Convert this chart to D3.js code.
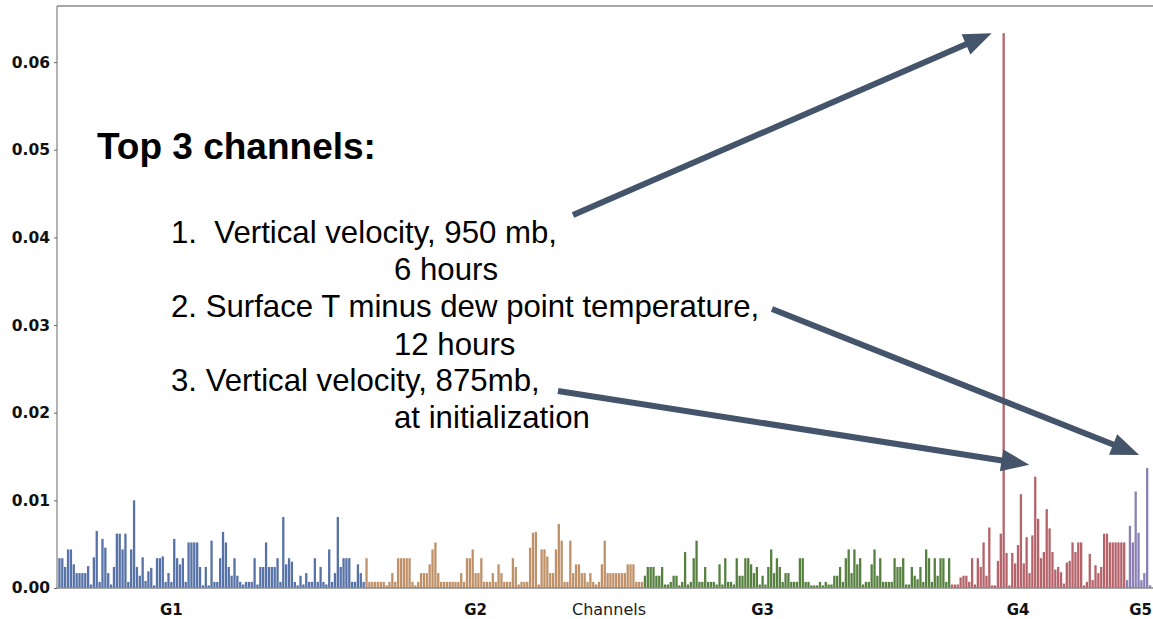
<!DOCTYPE html>
<html>
<head>
<meta charset="utf-8">
<script src="https://cdn.jsdelivr.net/npm/d3@7"></script>
<style>
  html, body { margin: 0; padding: 0; background: #ffffff; }
  svg { display: block; }
  .note { font-family: "Liberation Sans", Arial, sans-serif; fill: #000; white-space: pre; }
</style>
</head>
<body>
<svg id="chart" width="1153" height="619"></svg>
<script>
// Importance score of every input channel, in channel order
const channelValues = [
  // G1
  0.0034, 0.0034, 0.0024, 0.0044, 0.0044, 0.0027, 0.0017, 0.0017, 0.0017, 0.0017,
  0.0025, 0.0004, 0.0035, 0.0065, 0.0007, 0.0056, 0.0046, 0.0017, 0.0004, 0.0024,
  0.0062, 0.0062, 0.0044, 0.0062, 0.0007, 0.0044, 0.0100, 0.0024, 0.0014, 0.0035,
  0.0008, 0.0019, 0.0023, 0.0003, 0.0034, 0.0034, 0.0036, 0.0007, 0.0017, 0.0007,
  0.0056, 0.0034, 0.0027, 0.0034, 0.0007, 0.0052, 0.0052, 0.0052, 0.0052, 0.0024,
  0.0003, 0.0024, 0.0003, 0.0054, 0.0007, 0.0007, 0.0034, 0.0064, 0.0052, 0.0024,
  0.0014, 0.0034, 0.0014, 0.0007, 0.0004, 0.0007, 0.0007, 0.0007, 0.0034, 0.0004,
  0.0024, 0.0024, 0.0052, 0.0024, 0.0024, 0.0024, 0.0034, 0.0007, 0.0081, 0.0027,
  0.0034, 0.0030, 0.0007, 0.0003, 0.0014, 0.0004, 0.0017, 0.0007, 0.0007, 0.0034,
  0.0007, 0.0024, 0.0007, 0.0004, 0.0044, 0.0007, 0.0017, 0.0081, 0.0024, 0.0034,
  0.0034, 0.0034, 0.0007, 0.0007, 0.0027, 0.0017, 0.0007,
  // G2
  0.0034, 0.0007, 0.0007, 0.0007, 0.0007, 0.0007, 0.0007, 0.0003, 0.0007, 0.0017,
  0.0007, 0.0034, 0.0034, 0.0034, 0.0034, 0.0034, 0.0007, 0.0003, 0.0007, 0.0017,
  0.0017, 0.0017, 0.0027, 0.0044, 0.0052, 0.0017, 0.0007, 0.0007, 0.0007, 0.0007,
  0.0007, 0.0007, 0.0007, 0.0017, 0.0007, 0.0034, 0.0034, 0.0044, 0.0017, 0.0017,
  0.0034, 0.0007, 0.0007, 0.0007, 0.0017, 0.0007, 0.0027, 0.0017, 0.0007, 0.0007,
  0.0007, 0.0034, 0.0024, 0.0004, 0.0007, 0.0007, 0.0007, 0.0046, 0.0063, 0.0064,
  0.0004, 0.0044, 0.0044, 0.0036, 0.0017, 0.0017, 0.0044, 0.0073, 0.0054, 0.0007,
  0.0007, 0.0054, 0.0017, 0.0027, 0.0027, 0.0017, 0.0017, 0.0007, 0.0017, 0.0007,
  0.0004, 0.0007, 0.0027, 0.0054, 0.0017, 0.0017, 0.0017, 0.0017, 0.0017, 0.0017,
  0.0017, 0.0027, 0.0027, 0.0027, 0.0007, 0.0007, 0.0007,
  // G3
  0.0014, 0.0024, 0.0024, 0.0024, 0.0014, 0.0014, 0.0024, 0.0004, 0.0004, 0.0007,
  0.0014, 0.0014, 0.0003, 0.0007, 0.0041, 0.0004, 0.0007, 0.0034, 0.0054, 0.0007,
  0.0007, 0.0024, 0.0007, 0.0007, 0.0007, 0.0004, 0.0027, 0.0004, 0.0034, 0.0007,
  0.0007, 0.0004, 0.0034, 0.0014, 0.0014, 0.0034, 0.0034, 0.0027, 0.0017, 0.0024,
  0.0004, 0.0014, 0.0004, 0.0024, 0.0044, 0.0017, 0.0034, 0.0024, 0.0007, 0.0017,
  0.0017, 0.0007, 0.0007, 0.0007, 0.0034, 0.0034, 0.0007, 0.0007, 0.0003, 0.0003,
  0.0003, 0.0007, 0.0003, 0.0007, 0.0004, 0.0004, 0.0014, 0.0014, 0.0024, 0.0007,
  0.0034, 0.0044, 0.0017, 0.0044, 0.0027, 0.0034, 0.0004, 0.0007, 0.0007, 0.0027,
  0.0044, 0.0014, 0.0034, 0.0007, 0.0007, 0.0007, 0.0007, 0.0034, 0.0024, 0.0024,
  0.0034, 0.0004, 0.0004, 0.0024, 0.0014, 0.0010, 0.0024, 0.0007, 0.0044, 0.0034,
  0.0007, 0.0034, 0.0014, 0.0034, 0.0034, 0.0007, 0.0034,
  // G4
  0.0004, 0.0004, 0.0004, 0.0012, 0.0014, 0.0014, 0.0007, 0.0034, 0.0004, 0.0034,
  0.0024, 0.0052, 0.0014, 0.0069, 0.0003, 0.0003, 0.0031, 0.0062, 0.0633, 0.0040,
  0.0003, 0.0040, 0.0028, 0.0049, 0.0107, 0.0028, 0.0058, 0.0017, 0.0060, 0.0127,
  0.0079, 0.0034, 0.0041, 0.0090, 0.0068, 0.0041, 0.0021, 0.0024, 0.0018, 0.0005,
  0.0029, 0.0031, 0.0052, 0.0041, 0.0052, 0.0052, 0.0003, 0.0007, 0.0039, 0.0009,
  0.0026, 0.0017, 0.0024, 0.0062, 0.0062, 0.0052, 0.0052, 0.0052, 0.0052, 0.0052,
  0.0052,
  // G5
  0.0009, 0.0071, 0.0052, 0.0110, 0.0063, 0.0009, 0.0017, 0.0137, 0.0003
];

// Channel groups: name, first channel index
const groupNames = ["G1", "G2", "G3", "G4", "G5"];
const groupStarts = [0, 107, 204, 311, 372];
// Channel under each group label on the x axis
const groupLabelChannels = [39, 145, 245, 334, 379];

const yTickValues = [0, 0.01, 0.02, 0.03, 0.04, 0.05, 0.06];
const yMax = 0.0664;

// Three most important channels and their descriptions
const topChannels = [329, 379, 340];
const noteTitle = "Top 3 channels:";
const noteLines = [
  "1.  Vertical velocity, 950 mb,",
  "6 hours",
  "2. Surface T minus dew point temperature,",
  "12 hours",
  "3. Vertical velocity, 875mb,",
  "at initialization"
];

const groupColors = ["#5672a6", "#bf9169", "#56803f", "#b5636a", "#8b80b4"];

const svg = d3.select("#chart");
const W = 1153, H = 619;
const margin = { left: 57, top: 6, bottom: 31 };
const plotBottom = H - margin.bottom;   // y = 588
const pitch = 2.87;

const groupOf = i => d3.bisectRight(groupStarts, i) - 1;

const x = d3.scaleBand()
  .domain(d3.range(channelValues.length))
  .range([margin.left + 1, margin.left + 1 + channelValues.length * pitch])
  .paddingInner(0.2)
  .paddingOuter(0.1);

const y = d3.scaleLinear()
  .domain([0, yMax])
  .range([plotBottom, margin.top]);

// Bars
svg.append("g")
  .selectAll("rect")
  .data(channelValues)
  .join("rect")
  .attr("x", (d, i) => x(i))
  .attr("width", x.bandwidth())
  .attr("y", d => y(d))
  .attr("height", d => plotBottom - y(d))
  .attr("fill", (d, i) => groupColors[groupOf(i)]);

// Spines
const spine = svg.append("g").attr("stroke", "#8a8a8a").attr("stroke-width", 1.3).attr("fill", "none");
spine.append("line").attr("x1", margin.left).attr("x2", margin.left).attr("y1", margin.top).attr("y2", plotBottom);
spine.append("line").attr("x1", margin.left).attr("x2", W).attr("y1", margin.top).attr("y2", margin.top);
spine.append("line").attr("x1", margin.left).attr("x2", W).attr("y1", plotBottom).attr("y2", plotBottom);

// Y axis
const yAxis = svg.append("g")
  .attr("transform", `translate(${margin.left},0)`)
  .call(d3.axisLeft(y).tickValues(yTickValues).tickFormat(d3.format(".2f")).tickSize(3).tickPadding(4));
yAxis.select(".domain").remove();
yAxis.selectAll(".tick line").attr("stroke", "#666");
yAxis.selectAll("text")
  .attr("font-family", "DejaVu Sans, sans-serif")
  .attr("font-weight", "bold")
  .attr("font-size", 15.5)
  .attr("fill", "#111");

// Group labels along the x axis (kept inside the drawing area)
svg.append("g")
  .selectAll("text")
  .data(groupNames)
  .join("text")
  .attr("y", 615)
  .attr("text-anchor", "middle")
  .attr("font-family", "DejaVu Sans, sans-serif")
  .attr("font-weight", "bold")
  .attr("font-size", 15)
  .attr("fill", "#111")
  .text(d => d)
  .attr("x", function (d, i) {
    const cx = x(groupLabelChannels[i]) + x.bandwidth() / 2;
    const half = this.getComputedTextLength() / 2;
    return Math.min(cx, W - half - 1);
  });

svg.append("text")
  .attr("x", 609)
  .attr("y", 615)
  .attr("text-anchor", "middle")
  .attr("font-family", "DejaVu Sans, sans-serif")
  .attr("font-size", 16)
  .attr("fill", "#222")
  .text("Channels");

// Annotation text
svg.append("text")
  .attr("class", "note")
  .attr("x", 97)
  .attr("y", 159)
  .attr("font-size", 37)
  .attr("font-weight", "bold")
  .text(noteTitle);

const lineX = [171, 394, 171, 394, 171, 394];
const lineY = [243, 280, 317, 355, 391, 428];
svg.append("g")
  .selectAll("text")
  .data(noteLines)
  .join("text")
  .attr("class", "note")
  .attr("x", (d, i) => lineX[i])
  .attr("y", (d, i) => lineY[i])
  .attr("font-size", 31.2)
  .text(d => d);

// Arrows from each description to its channel
const arrowStarts = [[573, 215], [772, 309], [558, 391]];
const tipOffsets = [[-12, 0], [-8, -13], [-6, -12]];
const arrowColor = "#44546a";
const arrows = svg.append("g");
topChannels.forEach((ch, k) => {
  const [sx, sy] = arrowStarts[k];
  const tx = x(ch) + x.bandwidth() / 2 + tipOffsets[k][0];
  const ty = y(channelValues[ch]) + tipOffsets[k][1];
  const dx = tx - sx, dy = ty - sy;
  const len = Math.hypot(dx, dy);
  const ux = dx / len, uy = dy / len;
  const headLen = 28, headHalf = 11;
  const bx = tx - ux * headLen, by = ty - uy * headLen;
  arrows.append("line")
    .attr("x1", sx).attr("y1", sy)
    .attr("x2", bx + ux * 2).attr("y2", by + uy * 2)
    .attr("stroke", arrowColor)
    .attr("stroke-width", 6);
  arrows.append("path")
    .attr("d", `M${tx},${ty} L${bx - uy * headHalf},${by + ux * headHalf} L${bx + uy * headHalf},${by - ux * headHalf} Z`)
    .attr("fill", arrowColor);
});
</script>
</body>
</html>
